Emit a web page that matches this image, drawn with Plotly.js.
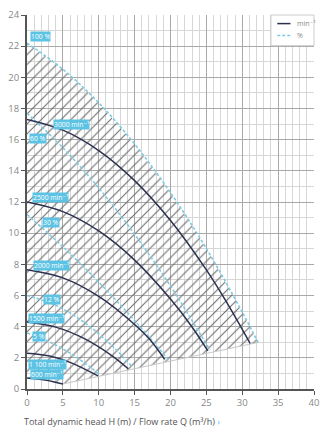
<!DOCTYPE html>
<html>
<head>
<meta charset="utf-8">
<script src="https://cdn.plot.ly/plotly-3.0.1.min.js"></script>
<style>html,body{margin:0;padding:0;background:#fff;}#chart{width:328px;height:440px;}</style>
</head>
<body>
<div id="chart"></div>
<script>
// Speed curves (min^-1): flow Q and head H
const q3000 = [0, 5, 10, 15, 20, 25, 28, 31.1];
const h3000 = [17.3, 16.61, 15.30, 13.37, 10.81, 7.64, 5.43, 2.92];
const q2500 = [0, 5, 10, 15, 20, 23, 25.2];
const h2500 = [12.0, 11.38, 10.14, 8.27, 5.77, 3.98, 2.45];
const q2000 = [0, 5, 10, 15, 17, 19.2];
const h2000 = [7.65, 7.13, 5.94, 4.14, 3.24, 1.9];
const q1500 = [0, 4, 8, 12, 14.1];
const h1500 = [4.3, 3.97, 3.23, 2.08, 1.3];
const q1100 = [0, 3, 6, 9.9];
const h1100 = [2.3, 2.13, 1.71, 0.84];
const q600 = [0, 2.5, 5];
const h600 = [0.7, 0.58, 0.32];

// Percentage curves (%)
const q100 = [0, 5, 10, 15, 20, 25, 30, 32.2];
const h100 = [22.2, 20.52, 18.36, 15.72, 12.60, 9.01, 4.94, 2.99];
const q60 = [0, 5, 10, 15, 20, 25.5];
const h60 = [17.7, 15.48, 12.90, 9.93, 6.60, 2.5];
const q30 = [0, 5, 10, 15, 19.7];
const h30 = [11.2, 9.12, 6.86, 4.39, 1.9];
const q12 = [0, 4, 8, 12, 14.6];
const h12 = [6.0, 5.37, 4.27, 2.71, 1.45];
const q5 = [0, 3, 6, 9, 10.2];
const h5 = [3.6, 3.05, 2.30, 1.34, 0.9];

// Lower limit of the operating range
const qLow = [5, 32.2];
const hLow = [0.32, 2.99];

// Curve labels
const labelText = ["100 %", "3000 min⁻¹", "60 %", "2500 min⁻¹", "30 %", "2000 min⁻¹", "12 %", "1500 min⁻¹", "5 %", "1 100 min⁻¹", "600 min⁻¹"];
const labelQ = [0.35, 3.6, 0.3, 0.7, 2.1, 0.8, 2.2, 0.15, 0.7, 0.15, 0.4];
const labelH = [22.6, 17.0, 16.05, 12.3, 10.7, 7.9, 5.75, 4.5, 3.35, 1.58, 0.9];

// Legend entries
const legendNames = ["min⁻¹", "%"];

const xTicks = [0, 5, 10, 15, 20, 25, 30, 35, 40];
const yTicks = [0, 2, 4, 6, 8, 10, 12, 14, 16, 18, 20, 22, 24];
const xTitle = "Total dynamic head H (m) / Flow rate Q (m³/h)";

const NAVY = '#2c3150';
const BLUE = '#7fcbe2';
const LBL = '#5cc3e4';
const FONT = 'Open Sans, DejaVu Sans, sans-serif';

const speedSets = [[q3000,h3000],[q2500,h2500],[q2000,h2000],[q1500,h1500],[q1100,h1100],[q600,h600]];
const pctSets = [[q100,h100],[q60,h60],[q30,h30],[q12,h12],[q5,h5]];

// hatched area polygon: along 100% curve, down lower limit, back along 600 curve
const polyX = q100.concat(qLow.slice().reverse(), q600.slice().reverse());
const polyY = h100.concat(hLow.slice().reverse(), h600.slice().reverse());

const traces = [];
traces.push({
  x: polyX, y: polyY, mode: 'lines', fill: 'toself', line: {width: 0, color: 'rgba(0,0,0,0)'},
  fillcolor: 'rgba(0,0,0,0)',
  fillpattern: {shape: '/', fgcolor: '#6a6a6a', bgcolor: 'rgba(0,0,0,0)', size: 7, solidity: 0.15},
  showlegend: false, hoverinfo: 'skip'
});
traces.push({x: qLow, y: hLow, mode: 'lines', line: {color: '#c8c8c8', width: 1}, showlegend: false, hoverinfo: 'skip'});
pctSets.forEach((s) => traces.push({
  x: s[0], y: s[1], mode: 'lines', line: {color: BLUE, width: 1.6, dash: '3px,2px', shape: 'spline'},
  showlegend: false
}));
speedSets.forEach((s) => traces.push({
  x: s[0], y: s[1], mode: 'lines', line: {color: NAVY, width: 1.5, shape: 'spline'},
  showlegend: false
}));

const annotations = labelText.map((t, i) => ({
  x: labelQ[i], y: labelH[i], xref: 'x', yref: 'y', text: t, showarrow: false,
  xanchor: 'left', yanchor: 'middle', bgcolor: LBL, borderpad: 0,
  font: {family: FONT, size: 6.8, color: '#ffffff'}
}));
annotations.push({
  xref: 'paper', yref: 'paper', x: -0.017, y: -0.087, xanchor: 'left', yanchor: 'middle',
  showarrow: false, text: xTitle + ' <span style="color:#5cc3e4">›</span>',
  font: {family: FONT, size: 9, color: '#555'}
});
// custom legend texts
annotations.push({xref: 'paper', yref: 'paper', x: 0.935, y: 0.977, xanchor: 'left', yanchor: 'middle', showarrow: false,
  text: legendNames[0], font: {family: FONT, size: 7, color: '#888'}});
annotations.push({xref: 'paper', yref: 'paper', x: 0.935, y: 0.945, xanchor: 'left', yanchor: 'middle', showarrow: false,
  text: legendNames[1], font: {family: FONT, size: 7, color: '#888'}});

const shapes = [
  {type: 'rect', xref: 'paper', yref: 'paper', x0: 0.85, x1: 1.0, y0: 0.918, y1: 1.0, fillcolor: '#ffffff',
   line: {color: '#cccccc', width: 1}, layer: 'above'},
  {type: 'line', xref: 'paper', yref: 'paper', x0: 0.872, x1: 0.918, y0: 0.977, y1: 0.977,
   line: {color: NAVY, width: 1.5}, layer: 'above'},
  {type: 'line', xref: 'paper', yref: 'paper', x0: 0.872, x1: 0.918, y0: 0.945, y1: 0.945,
   line: {color: BLUE, width: 1.5, dash: '3px,2px'}, layer: 'above'}
];

const axisCommon = {
  showgrid: true, gridcolor: '#a9a9a9', gridwidth: 1, zeroline: false,
  showline: true, linecolor: '#555', linewidth: 2, ticks: 'outside', ticklen: 4, tickcolor: '#555',
  tickfont: {family: FONT, size: 9.5, color: '#888'}, fixedrange: true
};

const layout = {
  width: 328, height: 440,
  margin: {l: 27, r: 14, t: 15, b: 51},
  paper_bgcolor: '#fff', plot_bgcolor: '#fff',
  showlegend: false,
  xaxis: Object.assign({}, axisCommon, {range: [0, 40], tickvals: xTicks,
    minor: {dtick: 1, tick0: 0, showgrid: true, gridcolor: '#d6d6d6', gridwidth: 1, ticks: ''}}),
  yaxis: Object.assign({}, axisCommon, {range: [0, 24], tickvals: yTicks,
    minor: {dtick: 1, tick0: 0, showgrid: true, gridcolor: '#d6d6d6', gridwidth: 1, ticks: ''}}),
  annotations: annotations,
  shapes: shapes
};

Plotly.newPlot('chart', traces, layout, {displayModeBar: false, staticPlot: true});
</script>
</body>
</html>
